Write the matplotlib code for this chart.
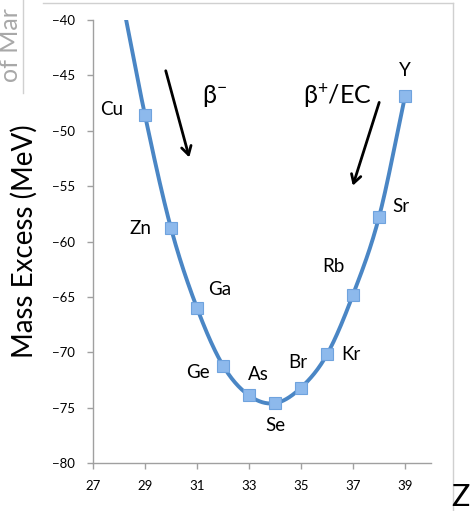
import numpy as np
import matplotlib
matplotlib.use("Agg")
import matplotlib.pyplot as plt
from matplotlib.lines import Line2D

# Data (A=77 isobar)
elements = ["Ni", "Cu", "Zn", "Ga", "Ge", "As", "Se", "Br", "Kr", "Rb", "Sr", "Y"]
Z = [28, 29, 30, 31, 32, 33, 34, 35, 36, 37, 38, 39]
mass_excess = [-36.7, -48.6, -58.8, -66.0, -71.2, -73.9, -74.6, -73.2, -70.2, -64.8, -57.8, -46.9]
xticks = [27, 29, 31, 33, 35, 37, 39]
yticks = [-80, -75, -70, -65, -60, -55, -50, -45, -40]

# label offsets (points) for each element label
label_offsets = {
    "Cu": (-24, 4), "Zn": (-22, 0), "Ga": (16, 13), "Ge": (-18, -5),
    "As": (7, 15), "Se": (0, -16), "Br": (-2, 18), "Kr": (17, 0),
    "Rb": (-14, 20), "Sr": (16, 8), "Y": (0, 19),
}

plt.rcParams['font.family'] = ['Lato', 'DejaVu Sans']
plt.rcParams['mathtext.fontset'] = 'custom'
plt.rcParams['mathtext.rm'] = 'Lato'
plt.rcParams['mathtext.it'] = 'Lato'

fig = plt.figure(figsize=(4.70, 5.11), dpi=100)
ax = fig.add_axes([93/470, 1-463/511, (431-93)/470, (463-20)/511])

# Catmull-Rom smooth line through points
x = np.array(Z, float)
y = np.array(mass_excess, float)
px = np.concatenate([[2*x[0]-x[1]], x, [2*x[-1]-x[-2]]])
py = np.concatenate([[2*y[0]-y[1]], y, [2*y[-1]-y[-2]]])
sx, sy = [], []
t = np.linspace(0, 1, 40)
for i in range(1, len(px)-2):
    p0, p1, p2, p3 = [np.array([px[j], py[j]]) for j in (i-1, i, i+1, i+2)]
    tt = t[:, None]
    pts = 0.5*((2*p1) + (-p0+p2)*tt + (2*p0-5*p1+4*p2-p3)*tt**2 + (-p0+3*p1-3*p2+p3)*tt**3)
    sx.extend(pts[:, 0]); sy.extend(pts[:, 1])
ax.plot(sx, sy, color='#4A86C5', lw=2.8, solid_capstyle='butt', zorder=2)
ax.plot(x, y, ls='none', marker='s', ms=8.5, mfc='#8DB9EC', mec='#6FA3DE', mew=0.8, zorder=3)

for el, xi, yi in zip(elements, Z, mass_excess):
    if el in label_offsets:
        ax.annotate(el, (xi, yi), xytext=label_offsets[el], textcoords='offset points',
                    ha='center', va='center', fontsize=13.5, color='black')

ax.set_xlim(27, 40)
ax.set_ylim(-80, -40)
ax.set_xticks(xticks)
ax.set_yticks(yticks)
ax.tick_params(axis='both', labelsize=9.5, color='#A0A0A0', direction='out', length=4, width=1)
ax.tick_params(axis='x', pad=8)
ax.tick_params(axis='y', pad=9)
for s in ['top', 'right']:
    ax.spines[s].set_visible(False)
for s in ['left', 'bottom']:
    ax.spines[s].set_color('#A0A0A0')
    ax.spines[s].set_linewidth(1)

ax.set_ylabel("Mass Excess (MeV)", fontsize=20, labelpad=10)
fig.text(460/470, 1-497/511, "Z", fontsize=22, ha='center', va='center')

# decay arrows
ax.annotate("", xy=(30.73, -52.65), xytext=(29.77, -44.34),
            arrowprops=dict(arrowstyle='->,head_length=0.6,head_width=0.35', lw=2, color='black'))
ax.annotate("", xy=(36.96, -55.2), xytext=(38.04, -47.2),
            arrowprops=dict(arrowstyle='->,head_length=0.6,head_width=0.35', lw=2, color='black'))
ax.text(31.69, -46.9, r"β$^{\mathrm{-}}$", fontsize=18, ha='center', va='center')
ax.text(36.42, -46.8, r"β$^{\mathrm{+}}$/EC", fontsize=18, ha='center', va='center')

# surrounding frame fragments
fig.add_artist(Line2D([43/470, 453/470], [1-3/511, 1-3/511], color='#D0D0D0', lw=1))
fig.add_artist(Line2D([453/470, 453/470], [1-3/511, 0], color='#D0D0D0', lw=1))
fig.add_artist(Line2D([23/470, 23/470], [1, 1-93/511], color='#D0D0D0', lw=1))
fig.text(11/470, 1-45/511, "of Mar", fontsize=18, rotation=90, color='#A8A8A8', ha='center', va='center')

fig.savefig("out.png", dpi=100)
